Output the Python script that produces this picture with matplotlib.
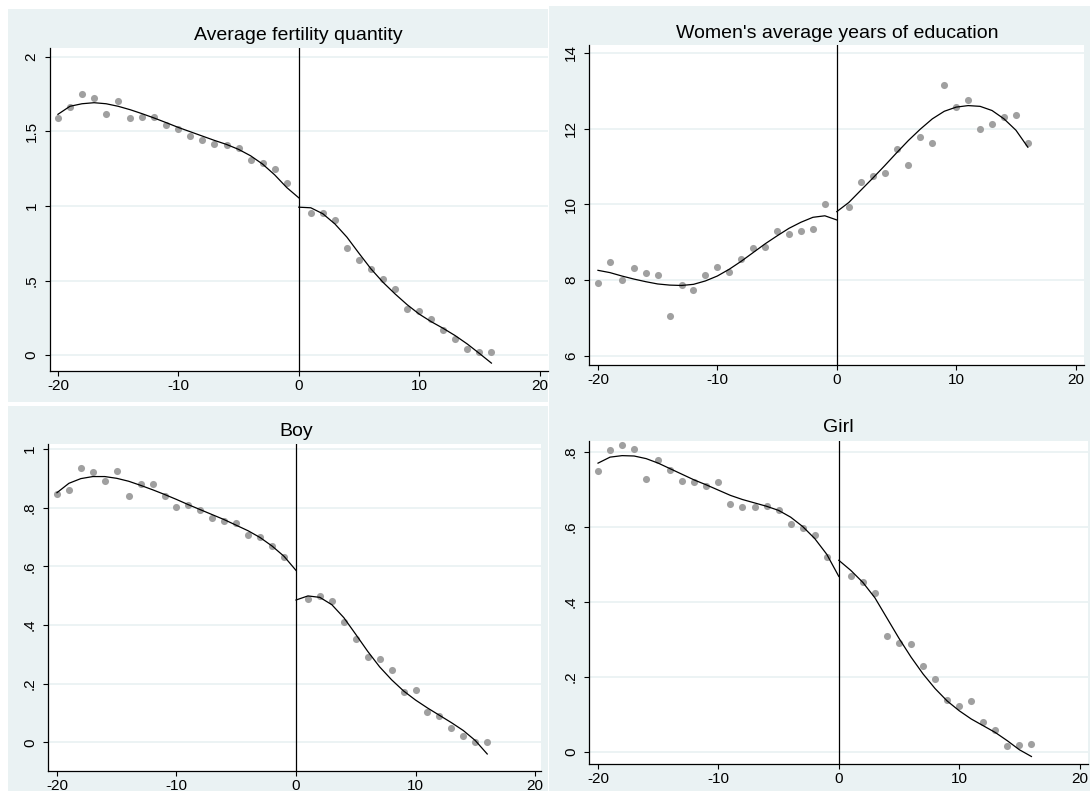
import numpy as np
import matplotlib.pyplot as plt
from matplotlib.patches import Rectangle

plt.rcParams['font.family'] = ['Liberation Sans', 'DejaVu Sans']

W, H = 1090, 793

# running variable
x_left = list(range(-20, 0))
x_right = list(range(1, 17))
xc_left = list(range(-20, 1))
xc_right = list(range(0, 17))

# Average fertility quantity
fert_left = [1.592, 1.662, 1.749, 1.727, 1.615, 1.702, 1.588, 1.597, 1.597, 1.545,
             1.518, 1.469, 1.440, 1.415, 1.409, 1.391, 1.310, 1.290, 1.245, 1.151]
fert_right = [0.952, 0.952, 0.903, 0.719, 0.641, 0.576, 0.508, 0.441, 0.307, 0.298,
              0.240, 0.168, 0.105, 0.038, 0.018, 0.018]
fert_fit_left = [1.615, 1.669, 1.686, 1.693, 1.686, 1.669, 1.646, 1.619, 1.590, 1.559,
                 1.527, 1.498, 1.469, 1.440, 1.413, 1.380, 1.337, 1.281, 1.209, 1.124, 1.055]
fert_fit_right = [0.992, 0.988, 0.948, 0.880, 0.791, 0.683, 0.578, 0.488, 0.410, 0.338,
                  0.275, 0.224, 0.179, 0.130, 0.074, 0.011, -0.054]

# Women's average years of education
edu_left = [7.92, 8.47, 8.01, 8.33, 8.18, 8.13, 7.06, 7.88, 7.74, 8.14,
            8.36, 8.22, 8.55, 8.85, 8.87, 9.29, 9.22, 9.31, 9.36, 10.02]
edu_right = [9.94, 10.58, 10.74, 10.84, 11.46, 11.04, 11.77, 11.63, 13.15, 12.58,
             12.77, 12.00, 12.12, 12.30, 12.37, 11.61]
edu_fit_left = [8.26, 8.20, 8.11, 8.03, 7.96, 7.90, 7.87, 7.86, 7.89, 7.98,
                8.11, 8.29, 8.50, 8.73, 8.96, 9.17, 9.37, 9.53, 9.66, 9.70, 9.59]
edu_fit_right = [9.81, 10.05, 10.37, 10.69, 11.02, 11.36, 11.69, 11.99, 12.26, 12.46,
                 12.57, 12.61, 12.59, 12.48, 12.26, 11.96, 11.51]

# Boy
boy_left = [0.847, 0.860, 0.936, 0.920, 0.891, 0.925, 0.840, 0.879, 0.879, 0.839,
            0.802, 0.809, 0.791, 0.764, 0.753, 0.749, 0.706, 0.699, 0.670, 0.633]
boy_right = [0.489, 0.499, 0.482, 0.411, 0.352, 0.290, 0.283, 0.247, 0.170, 0.179,
             0.103, 0.089, 0.048, 0.023, 0.000, 0.000]
boy_fit_left = [0.851, 0.883, 0.899, 0.906, 0.906, 0.900, 0.890, 0.876, 0.861, 0.845,
                0.828, 0.810, 0.793, 0.776, 0.759, 0.740, 0.721, 0.698, 0.669, 0.634, 0.586]
boy_fit_right = [0.485, 0.499, 0.494, 0.469, 0.425, 0.368, 0.310, 0.257, 0.213, 0.175,
                 0.144, 0.117, 0.092, 0.067, 0.040, 0.006, -0.040]

# Girl
girl_left = [0.748, 0.805, 0.818, 0.809, 0.727, 0.778, 0.751, 0.722, 0.720, 0.710,
             0.721, 0.662, 0.652, 0.654, 0.656, 0.644, 0.607, 0.596, 0.578, 0.519]
girl_right = [0.468, 0.454, 0.423, 0.310, 0.290, 0.287, 0.229, 0.194, 0.138, 0.122,
              0.136, 0.079, 0.059, 0.015, 0.019, 0.021]
girl_fit_left = [0.770, 0.786, 0.790, 0.789, 0.782, 0.770, 0.755, 0.740, 0.725, 0.712,
                 0.698, 0.684, 0.673, 0.664, 0.655, 0.644, 0.626, 0.601, 0.569, 0.527, 0.468]
girl_fit_right = [0.511, 0.484, 0.452, 0.411, 0.357, 0.303, 0.253, 0.208, 0.169, 0.136,
                  0.110, 0.088, 0.070, 0.052, 0.030, 0.006, -0.012]

xticks = [-20, -10, 0, 10, 20]

BG = '#eaf2f3'
DOT = '#a0a0a0'


def px_axes(fig, left, top, right, bottom, **kw):
    return fig.add_axes([left / W, 1 - bottom / H, (right - left) / W, (bottom - top) / H], **kw)


def panel(fig, bg, box, xlim, ylim, yticks, ylabels, title, title_y,
          pl, pr, fl, fr):
    # panel background
    fig.patches.append(Rectangle((bg[0] / W, 1 - bg[3] / H), (bg[2] - bg[0]) / W,
                                 (bg[3] - bg[1]) / H, transform=fig.transFigure,
                                 facecolor=BG, edgecolor='none', zorder=-10))
    ax = px_axes(fig, *box, facecolor='white')
    for t in yticks:
        ax.axhline(t, color=BG, lw=1.3, zorder=0)
    ax.axvline(0, color='black', lw=0.9, zorder=1)
    ax.scatter(x_left, pl, s=26, color=DOT, zorder=2, linewidths=0)
    ax.scatter(x_right, pr, s=26, color=DOT, zorder=2, linewidths=0)
    ax.plot(xc_left, fl, color='black', lw=0.9, zorder=3)
    ax.plot(xc_right, fr, color='black', lw=0.9, zorder=3)
    ax.set_xlim(*xlim)
    ax.set_ylim(*ylim)
    ax.set_xticks(xticks)
    ax.set_xticklabels([str(t) for t in xticks])
    ax.set_yticks(yticks)
    ax.set_yticklabels(ylabels, rotation=90, va='center')
    ax.tick_params(labelsize=11, length=3.5, width=0.8, color='black', pad=2)
    ax.tick_params(axis='y', pad=4.5)
    ax.spines['top'].set_visible(False)
    ax.spines['right'].set_visible(False)
    for s in ('left', 'bottom'):
        ax.spines[s].set_linewidth(0.9)
    x0 = box[0] + (box[2] - box[0]) * (0 - xlim[0]) / (xlim[1] - xlim[0])
    fig.text(x0 / W, 1 - title_y / H, title, ha='center', va='center', fontsize=14)
    return ax


fig = plt.figure(figsize=(W / 100, H / 100), dpi=100)
fig.patch.set_facecolor('white')

panel(fig, (8, 9, 548, 402), (49.5, 48, 548, 371), (-20.7, 20.7), (-0.107, 2.06),
      [0, 0.5, 1, 1.5, 2], ['0', '.5', '1', '1.5', '2'],
      'Average fertility quantity', 36,
      fert_left, fert_right, fert_fit_left, fert_fit_right)

panel(fig, (8, 406, 548, 791), (48, 444, 541, 771), (-20.75, 20.5), (-0.098, 1.017),
      [0, 0.2, 0.4, 0.6, 0.8, 1], ['0', '.2', '.4', '.6', '.8', '1'],
      'Boy', 431,
      boy_left, boy_right, boy_fit_left, boy_fit_right)

panel(fig, (549, 6, 1090, 440), (589, 45, 1084, 365), (-20.75, 20.7), (5.76, 14.21),
      [6, 8, 10, 12, 14], ['6', '8', '10', '12', '14'],
      "Women's average years of education", 33,
      edu_left, edu_right, edu_fit_left, edu_fit_right)

panel(fig, (549, 440, 1090, 791), (589, 441, 1088, 764), (-20.75, 20.7), (-0.032, 0.829),
      [0, 0.2, 0.4, 0.6, 0.8], ['0', '.2', '.4', '.6', '.8'],
      'Girl', 428,
      girl_left, girl_right, girl_fit_left, girl_fit_right)

fig.savefig('out.png', dpi=100)
